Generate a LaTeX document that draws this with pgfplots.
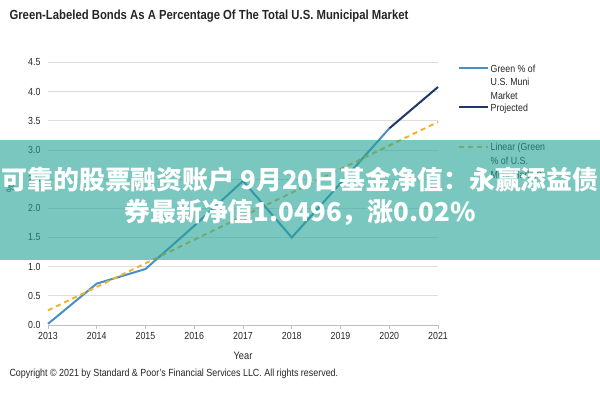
\documentclass[border=0pt]{standalone}
\usepackage{fontspec}
\setmainfont{Liberation Sans}[FakeStretch=0.86]
\newfontfamily\cjk{Noto Sans CJK SC}
\usepackage{pgfplots}
\pgfplotsset{compat=1.18}
\definecolor{greenline}{RGB}{72,143,198}
\definecolor{projline}{RGB}{30,55,100}
\definecolor{trendline}{RGB}{242,178,50}
\definecolor{gridc}{RGB}{222,222,222}
\definecolor{axc}{RGB}{191,191,191}
\definecolor{txt}{RGB}{38,38,38}
\definecolor{banner}{RGB}{33,162,147}
\begin{document}
\begin{tikzpicture}[x=1bp,y=1bp]
\path[use as bounding box, fill=white] (0,0) rectangle (600,400);
\begin{axis}[
  at={(48bp,75bp)}, anchor=south west,
  scale only axis, width=390bp, height=262.5bp,
  xmin=2013, xmax=2021, ymin=0, ymax=4.5,
  xtick={2013,2014,2015,2016,2017,2018,2019,2020,2021},
  ytick={0,0.5,1,1.5,2,2.5,3,3.5,4,4.5},
  axis x line*=bottom, axis y line*=left,
  y axis line style={draw=none},
  x axis line style={axc, line width=0.8bp},
  ytick style={draw=none},
  xtick style={axc, line width=0.8bp},
  tick align=outside, major tick length=4bp,
  ymajorgrids, grid style={gridc, line width=0.8bp},
  /pgf/number format/assume math mode=true,
  ticklabel style={font=\fontsize{10.3}{12}\selectfont, text=txt},
  xticklabel style={/pgf/number format/1000 sep={}},
  yticklabel style={/pgf/number format/fixed, /pgf/number format/fixed zerofill, /pgf/number format/precision=1},
  xlabel={Year},
  xlabel style={at={(axis description cs:0.5,-0.118)}, anchor=center, font=\fontsize{10.8}{12}\selectfont, text=txt},
  ylabel={\%},
  ylabel style={at={(axis description cs:-0.097,0.52)}, anchor=center, rotate=0, font=\fontsize{10.5}{12}\selectfont, text=txt},
  legend style={at={(axis description cs:1.051,1.0)}, anchor=north west, draw=none, fill=none, inner sep=0pt, row sep=0.6bp, font=\fontsize{10.3}{13.7}\selectfont, text=txt, nodes={align=left, inner ysep=0pt, inner xsep=2bp}},
  legend cell align=left,
  clip=false,
]
\addplot[greenline, line width=2bp, legend image code/.code={\draw[greenline, line width=1.6bp] (0bp,13.7bp) -- (29bp,13.7bp);}] coordinates {
 (2013,0.02) (2014,0.71) (2015,0.96) (2016,1.70) (2017,2.47) (2018,1.50) (2019,2.43) (2020,3.37)};
\addlegendentry{\strut Green \% of\\U.S. Muni\\Market\strut}
\addplot[projline, line width=2bp, legend image code/.code={\draw[projline, line width=1.6bp] (0bp,0bp) -- (29bp,0bp);}] coordinates {
 (2020,3.37) (2021,4.08)};
\addlegendentry{\strut Projected\strut}
\addlegendimage{empty legend}
\addlegendentry{\rule{0pt}{26bp}}
\addplot[trendline, line width=2bp, dash pattern=on 5bp off 4bp, legend image code/.code={\draw[trendline, line width=1.6bp, dash pattern=on 5bp off 4bp] (0bp,13.7bp) -- (29bp,13.7bp);}] coordinates {
 (2013,0.25) (2021,3.48)};
\addlegendentry{\strut Linear (Green\\\% of U.S.\\Muni Market)\strut}
\end{axis}
\node[anchor=west, font=\bfseries\fontsize{13.2}{15}\selectfont, text=txt] at (6,384) {Green-Labeled Bonds As A Percentage Of The Total U.S. Municipal Market};
\node[anchor=west, font=\fontsize{10.4}{12}\selectfont, text=txt] at (6,26) {Copyright © 2021 by Standard \& Poor's Financial Services LLC. All rights reserved.};
\fill[banner, fill opacity=0.6] (0,140) rectangle (600,260);
\node[font=\cjk\bfseries\fontsize{26}{32}\selectfont, text=white, align=center] at (300,204) {可靠的股票融资账户 9月20日基金净值：永赢添益债\\券最新净值1.0496，涨0.02\%};
\end{tikzpicture}
\end{document}
